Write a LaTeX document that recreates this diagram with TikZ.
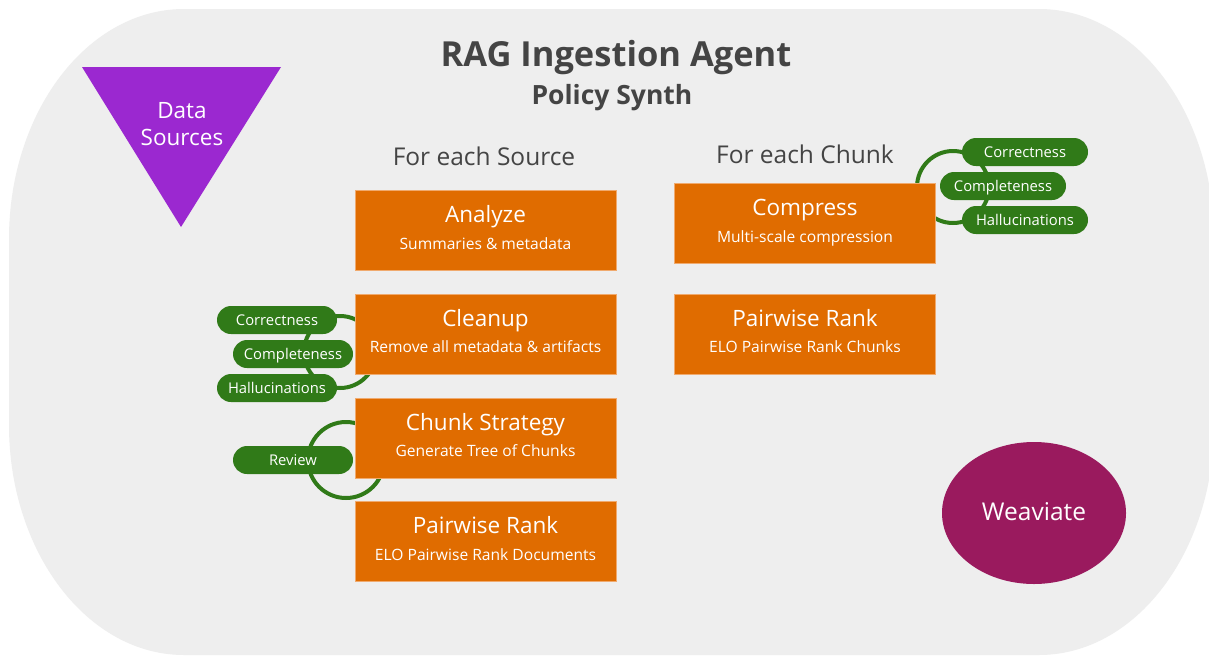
\documentclass[tikz,border=0pt]{standalone}
\usepackage{fontspec}
\setmainfont{Open Sans}
\usetikzlibrary{shapes.geometric}
\definecolor{bgC}{RGB}{238,238,238}
\definecolor{orangeC}{RGB}{224,108,0}
\definecolor{orangeL}{RGB}{240,170,110}
\definecolor{greenC}{RGB}{48,122,24}
\definecolor{purpleC}{RGB}{155,40,208}
\definecolor{plumC}{RGB}{154,26,94}
\definecolor{textG}{RGB}{68,68,68}
\newcommand{\fs}[1]{\fontsize{#1}{#1}\selectfont}
\tikzset{
  stepbox/.style={rectangle, fill=orangeC, draw=orangeL, line width=1pt, minimum width=261pt, minimum height=80pt, inner sep=0pt},
  boxtitle/.style={text=white, font=\fs{22.5}, inner sep=0pt, anchor=base},
  boxsub/.style={text=white, font=\fs{15.6}, inner sep=0pt, anchor=base},
  pill/.style={rectangle, rounded corners=14pt, fill=greenC, text=white, font=\fs{14.8}, text height=10.6pt, text depth=0pt, minimum width=120pt, minimum height=28pt, inner sep=0pt},
  loop/.style={draw=greenC, line width=4pt},
  heading/.style={text=textG, font=\fs{24.5}, inner sep=0pt, anchor=base},
}
\begin{document}
\begin{tikzpicture}[x=1pt,y=-1pt]
\useasboundingbox (0,0) rectangle (1209,656);
\fill[white] (0,0) rectangle (1209,656);
% background rounded shape
\fill[bgC] (184,9) -- (1039,9)
  .. controls (1135.6,9) and (1214,112) .. (1214,239)
  -- (1214,425)
  .. controls (1214,552) and (1135.6,655) .. (1039,655)
  -- (184,655)
  .. controls (87.4,655) and (9,552) .. (9,425)
  -- (9,239)
  .. controls (9,112) and (87.4,9) .. (184,9) -- cycle;

% titles
\node[text=textG, font=\fs{34.5}\bfseries, inner sep=0pt, anchor=base] (title) at (616,66) {RAG Ingestion Agent};
\node[text=textG, font=\fs{26.5}\bfseries, inner sep=0pt, anchor=base] (subtitle) at (612,104) {Policy Synth};
\node[heading] (hsrc) at (484,165) {For each Source};
\node[heading] (hchunk) at (805,163) {For each Chunk};

% data sources
\fill[purpleC] (82,67) -- (281,67) -- (181,227) -- cycle;
\node[text=white, font=\fs{22.5}, inner sep=0pt, anchor=base] (ds1) at (182,118) {Data};
\node[text=white, font=\fs{22.5}, inner sep=0pt, anchor=base] (ds2) at (182,145) {Sources};

% loops (connectors)
\coordinate (loopA) at (340,352);
\coordinate (loopB) at (346,460);
\coordinate (loopC) at (953,187);
\draw[loop] (loopA) circle[radius=36];
\draw[loop] (loopB) circle[radius=38];
\draw[loop] (loopC) circle[radius=36];

% left column boxes
\node[stepbox] (analyze) at (485.5,230.5) {};
\node[boxtitle] at ([yshift=-32.5pt]analyze.north) (analyzeT) {Analyze};
\node[boxsub] at ([yshift=-59pt]analyze.north) (analyzeS) {Summaries \& metadata};

\node[stepbox] (cleanup) at (485.5,334) {};
\node[boxtitle] at ([yshift=-32.5pt]cleanup.north) (cleanupT) {Cleanup};
\node[boxsub] at ([yshift=-59pt]cleanup.north) (cleanupS) {Remove all metadata \& artifacts};

\node[stepbox] (chunk) at (485.5,438) {};
\node[boxtitle] at ([yshift=-32.5pt]chunk.north) (chunkT) {Chunk Strategy};
\node[boxsub] at ([yshift=-59pt]chunk.north) (chunkS) {Generate Tree of Chunks};

\node[stepbox] (rankdoc) at (485.5,541.5) {};
\node[boxtitle] at ([yshift=-32.5pt]rankdoc.north) (rankdocT) {Pairwise Rank};
\node[boxsub] at ([yshift=-59pt]rankdoc.north) (rankdocS) {ELO Pairwise Rank Documents};

% right column boxes
\node[stepbox] (compress) at (805,223.5) {};
\node[boxtitle] at ([yshift=-32.5pt]compress.north) (compressT) {Compress};
\node[boxsub] at ([yshift=-59pt]compress.north) (compressS) {Multi-scale compression};

\node[stepbox] (rankchunk) at (805,334) {};
\node[boxtitle] at ([yshift=-32.5pt]rankchunk.north) (rankchunkT) {Pairwise Rank};
\node[boxsub] at ([yshift=-59pt]rankchunk.north) (rankchunkS) {ELO Pairwise Rank Chunks};

% pills
\node[pill] (corrL) at (277,320) {Correctness};
\node[pill] (compL) at (293,354) {Completeness};
\node[pill] (hallL) at (277,388) {Hallucinations};
\node[pill] (review) at (293,460) {Review};
\node[pill, minimum width=126pt] (corrR) at (1025,152) {Correctness};
\node[pill, minimum width=126pt] (compR) at (1003,186) {Completeness};
\node[pill, minimum width=126pt] (hallR) at (1025,220) {Hallucinations};

% Weaviate
\node[ellipse, fill=plumC, minimum width=184pt, minimum height=142pt, inner sep=0pt] (weaviate) at (1034,513) {};
\node[text=white, font=\fs{24.5}, inner sep=0pt, anchor=base] (weaviateT) at (1034,520) {Weaviate};
\end{tikzpicture}
\end{document}
